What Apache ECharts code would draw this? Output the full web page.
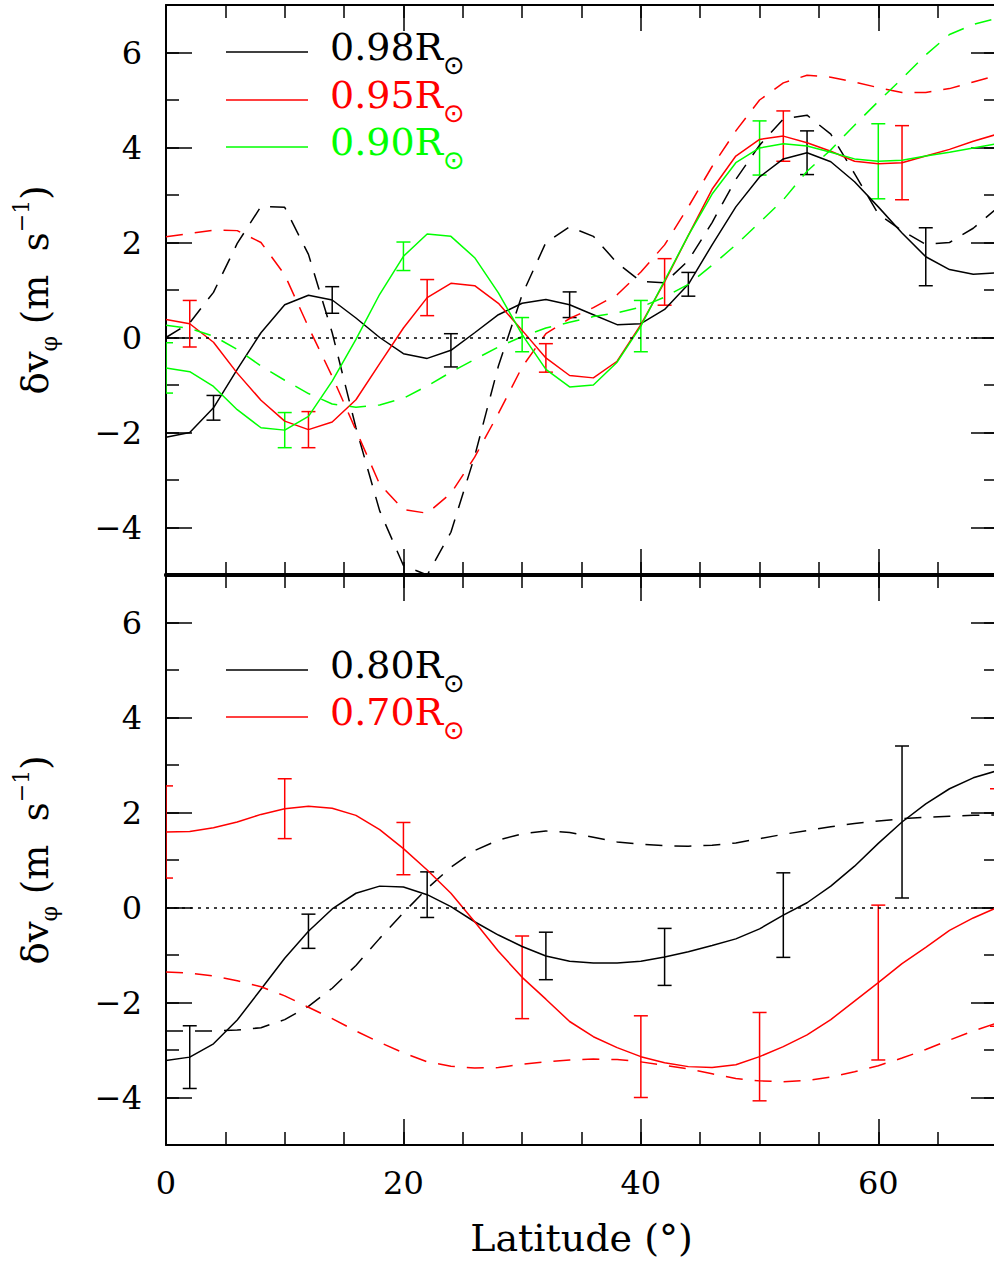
<!DOCTYPE html>
<html><head><meta charset="utf-8">
<script src="https://cdn.jsdelivr.net/npm/echarts@6/dist/echarts.min.js"></script>
<style>html,body{margin:0;padding:0;background:#fff}#c{width:994px;height:1262px}</style>
</head><body><div id="c"></div>
<script>
// Latitude samples (degrees)
const lat = [0,2,4,6,8,10,12,14,16,18,20,22,24,26,28,30,32,34,36,38,40,42,44,46,48,50,52,54,56,58,60,62,64,66,68,70];

// Top panel: solid = one inversion, dashed = other
const v98 = [-2.1,-2.0,-1.48,-0.67,0.1,0.69,0.89,0.79,0.41,0.0,-0.34,-0.44,-0.27,0.1,0.48,0.72,0.8,0.69,0.48,0.27,0.29,0.59,1.12,1.95,2.75,3.38,3.76,3.89,3.7,3.28,2.75,2.2,1.7,1.43,1.33,1.36];
const v98d = [0.0,0.31,0.95,1.98,2.76,2.74,1.75,0.1,-1.9,-3.65,-4.8,-5.0,-4.1,-2.5,-0.6,0.9,2.0,2.33,2.13,1.57,1.18,1.15,1.62,2.42,3.33,4.05,4.6,4.68,4.28,3.45,2.6,2.25,1.96,2.0,2.3,2.72];
const v95 = [0.38,0.29,-0.1,-0.75,-1.32,-1.76,-1.94,-1.78,-1.31,-0.55,0.2,0.84,1.14,1.09,0.72,0.15,-0.43,-0.8,-0.85,-0.5,0.27,1.17,2.15,3.12,3.82,4.17,4.24,4.1,3.92,3.71,3.66,3.68,3.82,3.96,4.13,4.28];
const v95d = [2.12,2.19,2.26,2.25,2.0,1.32,0.22,-0.82,-1.95,-3.09,-3.62,-3.7,-3.28,-2.52,-1.6,-0.62,0.08,0.4,0.63,0.9,1.38,1.95,2.75,3.6,4.35,5.0,5.36,5.52,5.48,5.38,5.26,5.16,5.16,5.24,5.38,5.52];
const v90 = [-0.64,-0.72,-1.03,-1.52,-1.9,-1.95,-1.66,-0.92,-0.04,0.91,1.71,2.18,2.13,1.68,0.94,0.06,-0.67,-1.04,-1.0,-0.52,0.24,1.2,2.15,3.02,3.68,3.99,4.08,4.03,3.9,3.76,3.71,3.73,3.82,3.9,3.99,4.08];
const v90d = [0.26,0.19,0.03,-0.25,-0.6,-0.9,-1.18,-1.4,-1.47,-1.42,-1.28,-1.02,-0.73,-0.46,-0.2,0.02,0.2,0.32,0.44,0.52,0.64,0.85,1.12,1.52,1.95,2.42,2.9,3.5,3.95,4.47,4.97,5.45,5.95,6.38,6.59,6.72];

// Bottom panel
const v80 = [-3.22,-3.15,-2.87,-2.37,-1.72,-1.07,-0.5,-0.03,0.3,0.45,0.43,0.27,0.02,-0.3,-0.58,-0.82,-1.02,-1.13,-1.17,-1.17,-1.13,-1.04,-0.93,-0.8,-0.66,-0.45,-0.16,0.1,0.45,0.87,1.35,1.8,2.18,2.5,2.73,2.88];
const v80d = [-2.6,-2.6,-2.6,-2.58,-2.53,-2.36,-2.08,-1.7,-1.22,-0.65,-0.11,0.4,0.85,1.2,1.42,1.55,1.61,1.58,1.48,1.38,1.33,1.3,1.29,1.31,1.36,1.45,1.54,1.62,1.7,1.77,1.82,1.87,1.9,1.92,1.94,1.95];
const v70 = [1.59,1.6,1.68,1.8,1.96,2.08,2.13,2.09,1.94,1.64,1.24,0.79,0.3,-0.3,-0.92,-1.47,-1.93,-2.4,-2.72,-2.95,-3.14,-3.27,-3.35,-3.37,-3.31,-3.14,-2.93,-2.68,-2.36,-1.97,-1.58,-1.18,-0.84,-0.48,-0.22,0.0];
const v70d = [-1.36,-1.38,-1.44,-1.54,-1.67,-1.86,-2.1,-2.34,-2.6,-2.84,-3.06,-3.25,-3.34,-3.38,-3.37,-3.3,-3.25,-3.21,-3.19,-3.2,-3.25,-3.32,-3.4,-3.5,-3.6,-3.65,-3.67,-3.64,-3.57,-3.46,-3.33,-3.17,-2.99,-2.79,-2.6,-2.43];

// Error bars: [latitude, half-width]
const e98 = [[4,0.26],[14,0.28],[24,0.35],[34,0.27],[44,0.25],[54,0.46],[64,0.61]];
const e95 = [[2,0.49],[12,0.38],[22,0.38],[32,0.3],[42,0.49],[52,0.53],[62,0.78]];
const e90 = [[0,0.53],[10,0.37],[20,0.3],[30,0.36],[40,0.54],[50,0.57],[60,0.79]];
const e80 = [[2,0.66],[12,0.36],[22,0.48],[32,0.5],[42,0.6],[52,0.89],[62,1.6]];
const e70 = [[0,0.97],[10,0.63],[20,0.55],[30,0.87],[40,0.86],[50,0.93],[60,1.63],[70,2.5]];

const yMajor = [-4,-2,0,2,4,6];
const xMajorTicks = [20,40,60];
const xLabels = [0,20,40,60];

const FONT = 'DejaVu Serif';
const BLACK = '#000000', RED = '#ff0000', GREEN = '#00ff00';

const chart = echarts.init(document.getElementById('c'), null, {renderer:'svg'});

function fmtNum(v){ return v < 0 ? '\u2212' + Math.abs(v) : String(v); }

const grids = [
  {left:166, top:5, width:831, height:570, outerBoundsMode:'none', containLabel:false},
  {left:166, top:575, width:831, height:570, outerBoundsMode:'none', containLabel:false}
];

const xAxes = [], yAxes = [];
for (let g = 0; g < 2; g++) {
  const sepBottom = g === 0 ? 4 : 2;
  const sepTop = g === 1 ? 4 : 2;
  xAxes.push({type:'value', gridIndex:g, position:'bottom', min:0, max:70,
    axisLine:{onZero:false, lineStyle:{color:BLACK, width:sepBottom}},
    axisTick:{inside:true, length:26, customValues:xMajorTicks, lineStyle:{color:BLACK, width:1.5}},
    axisLabel:{show:g===1, customValues:xLabels, margin:22, color:BLACK, fontFamily:FONT, fontSize:32},
    splitLine:{show:false},
    name: g===1 ? 'Latitude (\u00b0)' : '', nameLocation:'middle', nameGap:74,
    nameTextStyle:{color:BLACK, fontFamily:FONT, fontSize:38}
  });
  xAxes.push({type:'value', gridIndex:g, position:'bottom', min:0, max:70, interval:5,
    axisLine:{show:false, onZero:false},
    axisTick:{inside:true, length:13, lineStyle:{color:BLACK, width:1.5}},
    axisLabel:{show:false}, splitLine:{show:false}});
  xAxes.push({type:'value', gridIndex:g, position:'top', min:0, max:70,
    axisLine:{onZero:false, lineStyle:{color:BLACK, width:sepTop}},
    axisTick:{inside:true, length:26, customValues:xMajorTicks, lineStyle:{color:BLACK, width:1.5}},
    axisLabel:{show:false}, splitLine:{show:false}});
  xAxes.push({type:'value', gridIndex:g, position:'top', min:0, max:70, interval:5,
    axisLine:{show:false, onZero:false},
    axisTick:{inside:true, length:13, lineStyle:{color:BLACK, width:1.5}},
    axisLabel:{show:false}, splitLine:{show:false}});

  yAxes.push({type:'value', gridIndex:g, position:'left', min:-5, max:7,
    axisLine:{onZero:false, lineStyle:{color:BLACK, width:2}},
    axisTick:{inside:true, length:26, customValues:yMajor, lineStyle:{color:BLACK, width:1.5}},
    axisLabel:{customValues:yMajor, margin:24, color:BLACK, fontFamily:FONT, fontSize:32, formatter:fmtNum},
    splitLine:{show:false},
    name:'{a|\u03b4v}{b|\u03c6}{a| (m  s}{c|\u22121}{a|)}', nameLocation:'middle', nameGap:106,
    nameTextStyle:{color:BLACK, fontFamily:FONT, rich:{
      a:{fontFamily:FONT, fontSize:37, color:BLACK, lineHeight:50},
      b:{fontFamily:FONT, fontSize:22, color:BLACK, lineHeight:18, verticalAlign:'bottom'},
      c:{fontFamily:FONT, fontSize:22, color:BLACK, lineHeight:18, verticalAlign:'top'}
    }}
  });
  yAxes.push({type:'value', gridIndex:g, position:'left', min:-5, max:7, interval:1,
    axisLine:{show:false, onZero:false},
    axisTick:{inside:true, length:13, lineStyle:{color:BLACK, width:1.5}},
    axisLabel:{show:false}, splitLine:{show:false}});
  yAxes.push({type:'value', gridIndex:g, position:'right', min:-5, max:7,
    axisLine:{onZero:false, lineStyle:{color:BLACK, width:2}},
    axisTick:{inside:true, length:26, customValues:yMajor, lineStyle:{color:BLACK, width:1.5}},
    axisLabel:{show:false}, splitLine:{show:false}});
  yAxes.push({type:'value', gridIndex:g, position:'right', min:-5, max:7, interval:1,
    axisLine:{show:false, onZero:false},
    axisTick:{inside:true, length:13, lineStyle:{color:BLACK, width:1.5}},
    axisLabel:{show:false}, splitLine:{show:false}});
}

function lineSeries(name, vals, color, dashed, g, withZero) {
  const s = {
    name, type:'line', xAxisIndex:4*g, yAxisIndex:4*g,
    data: lat.map((x,i)=>[x, vals[i]]),
    symbol:'none', silent:true, animation:false,
    lineStyle:{color, width:1.5, type: dashed ? [17,12] : 'solid'},
    itemStyle:{color}
  };
  if (withZero) {
    s.markLine = {silent:true, symbol:'none', animation:false, label:{show:false},
      lineStyle:{color:BLACK, width:1.5, type:[3,5]}, data:[{yAxis:0}]};
  }
  return s;
}

function errSeries(name, vals, errs, color, g) {
  return {
    name, type:'custom', xAxisIndex:4*g, yAxisIndex:4*g, clip:true, silent:true, animation:false,
    data: errs.map(([x,e]) => { const c = vals[lat.indexOf(x)]; return [x, c - e, c + e]; }),
    encode:{x:0, y:[1,2]},
    renderItem: (params, api) => {
      const lo = api.coord([api.value(0), api.value(1)]);
      const hi = api.coord([api.value(0), api.value(2)]);
      const w = 7;
      const st = {stroke:color, lineWidth:1.5};
      return {type:'group', children:[
        {type:'line', shape:{x1:lo[0], y1:lo[1], x2:hi[0], y2:hi[1]}, style:st},
        {type:'line', shape:{x1:lo[0]-w, y1:lo[1], x2:lo[0]+w, y2:lo[1]}, style:st},
        {type:'line', shape:{x1:hi[0]-w, y1:hi[1], x2:hi[0]+w, y2:hi[1]}, style:st}
      ]};
    }
  };
}

const series = [
  lineSeries('0.98R\u2299', v98, BLACK, false, 0, true),
  lineSeries('0.98R\u2299 (dashed)', v98d, BLACK, true, 0, false),
  lineSeries('0.95R\u2299', v95, RED, false, 0, false),
  lineSeries('0.95R\u2299 (dashed)', v95d, RED, true, 0, false),
  lineSeries('0.90R\u2299', v90, GREEN, false, 0, false),
  lineSeries('0.90R\u2299 (dashed)', v90d, GREEN, true, 0, false),
  errSeries('err 0.98', v98, e98, BLACK, 0),
  errSeries('err 0.95', v95, e95, RED, 0),
  errSeries('err 0.90', v90, e90, GREEN, 0),
  lineSeries('0.80R\u2299', v80, BLACK, false, 1, true),
  lineSeries('0.80R\u2299 (dashed)', v80d, BLACK, true, 1, false),
  lineSeries('0.70R\u2299', v70, RED, false, 1, false),
  lineSeries('0.70R\u2299 (dashed)', v70d, RED, true, 1, false),
  errSeries('err 0.80', v80, e80, BLACK, 1),
  errSeries('err 0.70', v70, e70, RED, 1)
];

// Legend keys
const legendTop = [['0.98', BLACK, 52], ['0.95', RED, 100], ['0.90', GREEN, 147]];
const legendBot = [['0.80', BLACK, 670], ['0.70', RED, 717]];
const graphic = [];
[...legendTop, ...legendBot].forEach(([lab, color, y]) => {
  graphic.push({type:'line', shape:{x1:226, y1:y, x2:308, y2:y}, style:{stroke:color, lineWidth:1.5}, silent:true});
  graphic.push({type:'text', x:330, y:y-5, style:{text:lab + 'R', fill:color, font:'38px "' + FONT + '"', textVerticalAlign:'middle', textAlign:'left'}, silent:true});
  graphic.push({type:'text', x:443, y:y+13, style:{text:'\u2299', fill:color, font:'26px "DejaVu Sans"', textVerticalAlign:'middle', textAlign:'left'}, silent:true});
});

chart.setOption({
  animation:false,
  backgroundColor:'#ffffff',
  grid:grids,
  xAxis:xAxes,
  yAxis:yAxes,
  series,
  graphic
});
</script>
</body></html>
